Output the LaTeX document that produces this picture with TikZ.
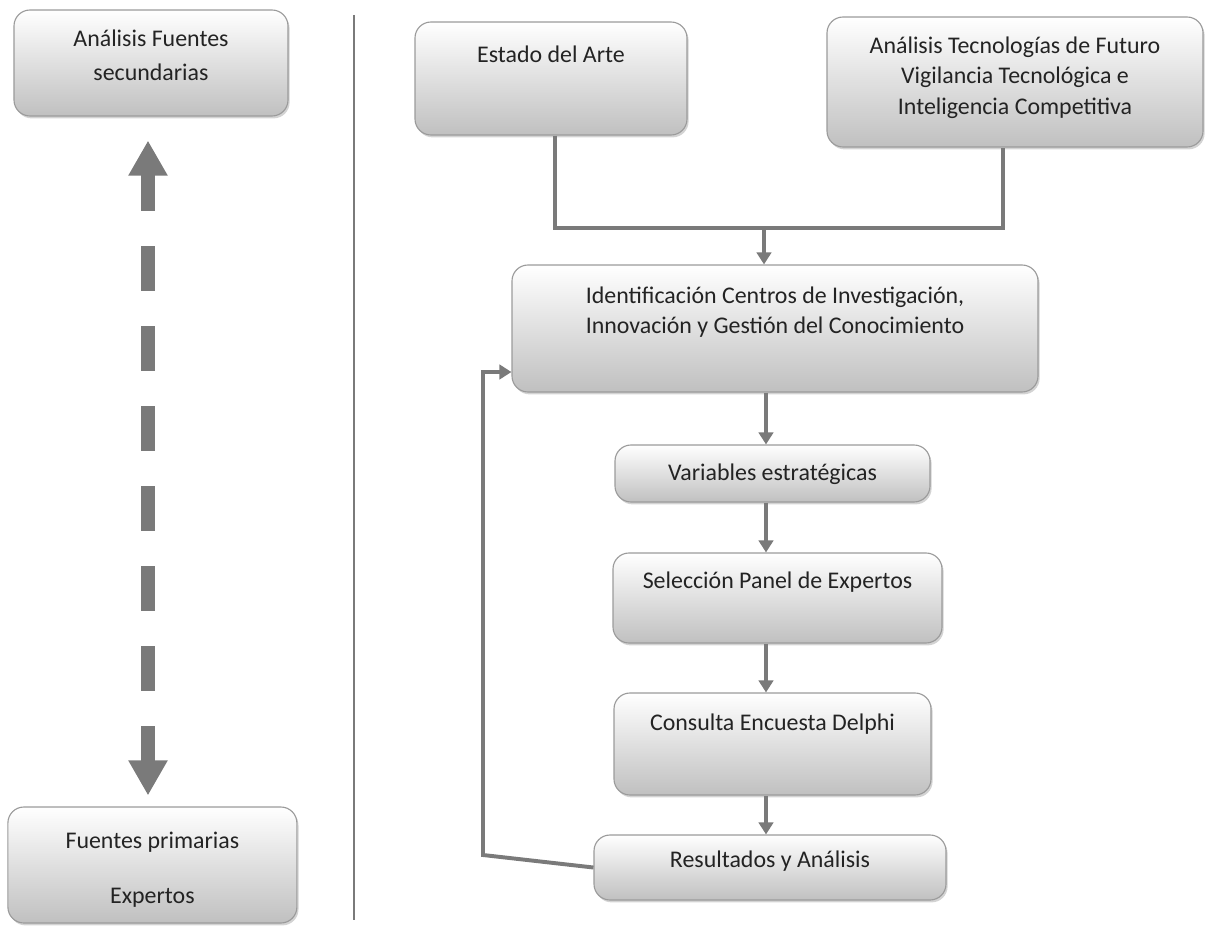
\documentclass[tikz,border=0pt]{standalone}
\usepackage{fontspec}
\setmainfont{Carlito}
\usetikzlibrary{arrows.meta, positioning, shadows, calc}
\definecolor{flowGray}{RGB}{122,122,122}
\definecolor{edgeGray}{RGB}{155,155,155}
\definecolor{shadeGray}{RGB}{192,192,192}
\definecolor{darkText}{RGB}{35,35,35}
\newcommand{\toptext}[4]{\parbox[c][#2][t]{#1}{\centering\vspace*{#3}#4\par}}
\tikzset{
    stagebox/.style={
        rectangle,
        draw=edgeGray,
        line width=0.8pt,
        rounded corners=0.4cm,
        top color=white,
        bottom color=shadeGray,
        inner sep=0pt,
        text=darkText,
        font=\fontsize{17}{21.5}\selectfont,
        drop shadow={shadow xshift=0.04cm, shadow yshift=-0.06cm, opacity=0.35}
    },
    flowarrow/.style={-{Triangle[length=0.3cm, width=0.36cm]}, line width=2.8pt, draw=flowGray},
    flowline/.style={line width=2.8pt, draw=flowGray},
    bigarrow/.style={{Triangle[length=0.875cm, width=0.92cm]}-{Triangle[length=0.875cm, width=0.92cm]},
        line width=10.5pt, draw=flowGray, dash pattern=on 1.125cm off 0.875cm, dash phase=0.175cm},
    divider/.style={draw=flowGray, line width=2.1pt}
}
\begin{document}
\begin{tikzpicture}
    \useasboundingbox (0,0) rectangle (30.225,-23.3);
    % left column
    \node[stagebox] (secu) at (3.775,-1.575) {\toptext{6.85cm}{2.65cm}{0.5cm}{An\'alisis Fuentes\\[0.08cm] secundarias}};
    \node[stagebox] (prim) at (3.81,-21.625) {\toptext{7.225cm}{2.9cm}{0.63cm}{Fuentes primarias\\[0.62cm] Expertos}};
    \coordinate (dashx) at (3.7,0);
    \draw[bigarrow, shorten <=0.6cm, shorten >=0.275cm] (secu.south -| dashx) -- (prim.north -| dashx);
    \coordinate (divtop) at (8.85,-0.37);
    \coordinate (divbot) at (8.85,-23.0);
    \draw[divider] (divtop) -- (divbot);
    % right column
    \node[stagebox] (estado) at (13.775,-1.9625) {\toptext{6.8cm}{2.825cm}{0.6cm}{Estado del Arte}};
    \node[stagebox] (tecno) at (25.375,-2.05) {\toptext{9.4cm}{3.25cm}{0.5cm}{An\'alisis Tecnolog\'ias de Futuro\\ Vigilancia Tecnol\'ogica e\\ Inteligencia Competitiva}};
    \node[stagebox] (ident) at (19.375,-8.2125) {\toptext{13.15cm}{3.175cm}{0.55cm}{Identificaci\'on Centros de Investigaci\'on,\\ Innovaci\'on y Gesti\'on del Conocimiento}};
    \node[stagebox] (varia) at (19.3125,-11.8375) {\toptext{7.875cm}{1.425cm}{0.47cm}{Variables estrat\'egicas}};
    \node[stagebox] (panel) at (19.4375,-14.95) {\toptext{8.225cm}{2.25cm}{0.47cm}{Selecci\'on Panel de Expertos}};
    \node[stagebox] (delphi) at (19.3125,-18.6) {\toptext{7.925cm}{2.55cm}{0.52cm}{Consulta Encuesta Delphi}};
    \node[stagebox] (result) at (19.25,-21.6875) {\toptext{8.8cm}{1.625cm}{0.39cm}{Resultados y An\'alisis}};
    % connectors
    \coordinate (joinL) at (13.875,-5.7);
    \coordinate (joinR) at (25.075,-5.7);
    \coordinate (joinM) at (19.1,-5.7);
    \coordinate (flowx) at (19.15,0);
    \draw[flowline] (estado.south -| joinL) -- (joinL) -- (joinR) -- (tecno.south -| joinR);
    \draw[flowarrow] (joinM) -- (ident.north -| joinM);
    \draw[flowarrow] (ident.south -| flowx) -- (varia.north -| flowx);
    \draw[flowarrow] (varia.south -| flowx) -- (panel.north -| flowx);
    \draw[flowarrow] (panel.south -| flowx) -- (delphi.north -| flowx);
    \draw[flowarrow] (delphi.south -| flowx) -- (result.north -| flowx);
    \coordinate (back1) at (12.075,-21.375);
    \coordinate (back2) at (12.075,-9.3);
    \draw[flowarrow] (result.west) -- (back1) -- (back2) -- (back2 -| ident.west);
\end{tikzpicture}
\end{document}
